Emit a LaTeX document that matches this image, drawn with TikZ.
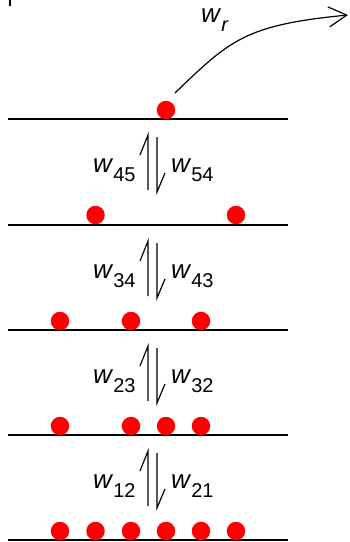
\documentclass[tikz,border=0pt]{standalone}
\usepackage{fontspec}
\setmainfont{Liberation Sans}
\usetikzlibrary{arrows.meta}
\newcommand{\wlab}[1]{\fontsize{26}{30}\selectfont\textit{w}\raisebox{-9pt}{\fontsize{20}{22}\selectfont #1}}
\tikzset{
  level/.style={line width=1.3pt},
  dot/.style={circle, fill=red, inner sep=0pt, minimum size=18.5pt},
  lab/.style={inner sep=0pt, anchor=base west},
  harp/.style={line width=1.2pt},
}
\begin{document}
\begin{tikzpicture}[x=1pt,y=-1pt]
\useasboundingbox (0,0) rectangle (350,542);
% small mark at top left
\draw[line width=2pt] (9.5,0) -- (9.5,6);
% level lines
\foreach \n/\y in {1/540,2/435,3/330,4/225,5/119}{
  \coordinate (L\n w) at (8,\y);
  \coordinate (L\n e) at (288,\y);
  \draw[level] (L\n w) -- (L\n e);
}
% dots
\node[dot] (d5a) at (166,110) {};
\node[dot] (d4a) at (95.5,215) {};
\node[dot] (d4b) at (236,215) {};
\node[dot] (d3a) at (60,321) {};
\node[dot] (d3b) at (131,321) {};
\node[dot] (d3c) at (201,321) {};
\node[dot] (d2a) at (60,426) {};
\node[dot] (d2b) at (131,426) {};
\node[dot] (d2c) at (166,426) {};
\node[dot] (d2d) at (201,426) {};
\foreach \x [count=\i] in {60,95.5,131,166,201,236}{
  \node[dot] (d1\i) at (\x,531) {};
}
% harpoons and labels
\foreach \t/\a/\b in {119/45/54,225/34/43,330/23/32,435/12/21}{
  \coordinate (hlt) at (148,\t+16);
  \coordinate (hlb) at (148,\t+71);
  \coordinate (hlk) at (140,\t+36);
  \coordinate (hrt) at (157,\t+18);
  \coordinate (hrb) at (157,\t+73);
  \coordinate (hrk) at (165,\t+54);
  \draw[harp] (hlb) -- (hlt) -- (hlk);
  \draw[harp] (hrt) -- (hrb) -- (hrk);
  \node[lab] (la\a) at (93,\t+53) {\wlab{\a}};
  \node[lab] (lb\b) at (171,\t+53) {\wlab{\b}};
}
% escape arrow
\coordinate (start) at (175,93);
\coordinate (endp) at (348,15);
\draw[line width=1.2pt, -{Straight Barb[length=18pt,width=20pt,line width=1.2pt]}]
  (start) .. controls (230,40) and (245,25) .. (endp);
\node[lab] (wr) at (201,22) {\wlab{\textit{r}}};
\end{tikzpicture}
\end{document}
